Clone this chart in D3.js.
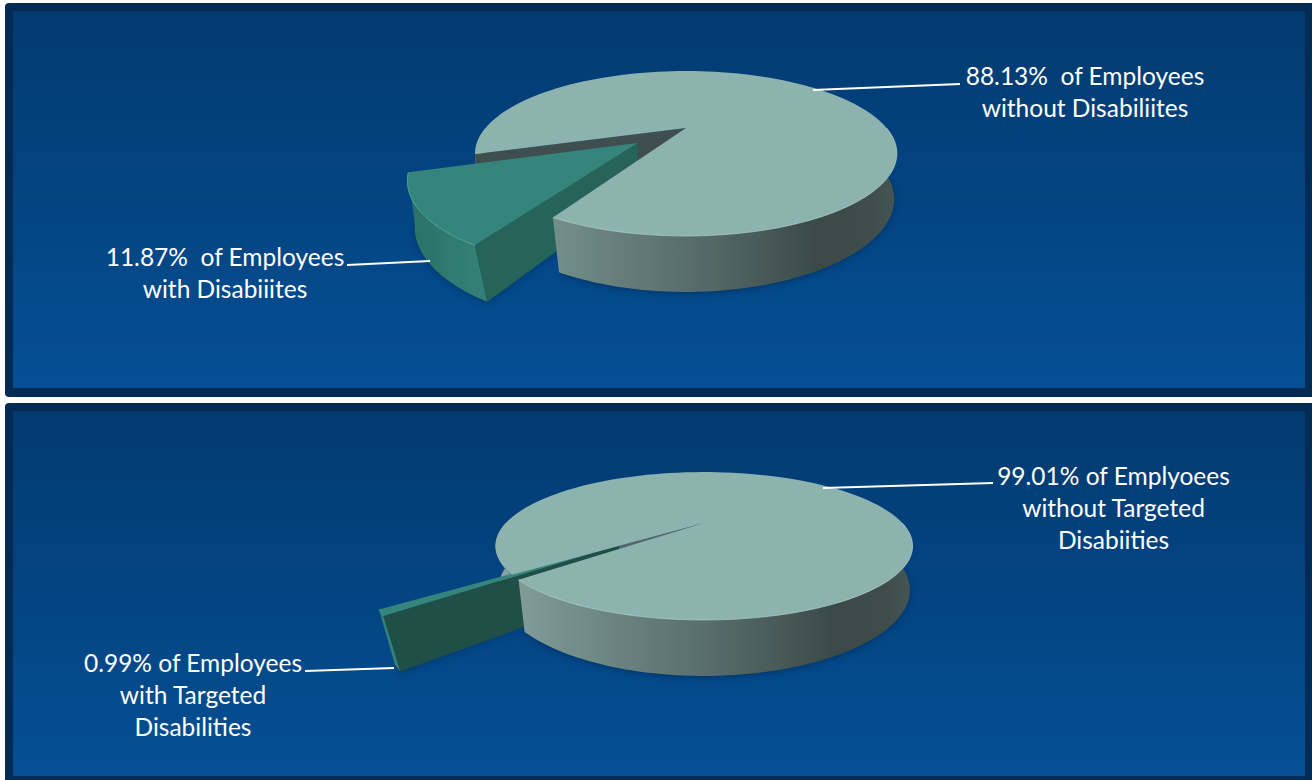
<!DOCTYPE html>
<html>
<head>
<meta charset="utf-8">
<script src="https://cdn.jsdelivr.net/npm/d3@7/dist/d3.min.js"></script>
<style>
  html, body { margin: 0; padding: 0; background: #fff; }
  svg { display: block; }
  text { font-family: Lato, "Open Sans", sans-serif; font-size: 24.5px; fill: #fff; }
</style>
</head>
<body>
<svg id="chart" width="1312" height="780"></svg>
<script>
// Workforce shares shown in each pie: [without, with]
const disabilityValues = [88.13, 11.87];
const targetedValues = [99.01, 0.99];

const disabilityMajorLabel = ["88.13%  of Employees", "without Disabiliites"];
const disabilityMinorLabel = ["11.87%  of Employees", "with Disabiiites"];
const targetedMajorLabel = ["99.01% of Emplyoees", "without Targeted", "Disabiities"];
const targetedMinorLabel = ["0.99% of Employees", "with Targeted", "Disabilities"];

const deg = Math.PI / 180;
const svg = d3.select("#chart");
const defs = svg.append("defs");

defs.append("filter").attr("id", "soft")
  .attr("x", "-10%").attr("y", "-10%").attr("width", "120%").attr("height", "120%")
  .append("feGaussianBlur").attr("stdDeviation", 3);

// Background panels
const panelFill = defs.append("linearGradient").attr("id", "panelFill")
  .attr("x1", 0).attr("y1", 0).attr("x2", 0).attr("y2", 1);
panelFill.append("stop").attr("offset", 0).attr("stop-color", "#023a70");
panelFill.append("stop").attr("offset", 1).attr("stop-color", "#054f94");

function drawPanel(y0, y1, innerTop, innerBottom) {
  svg.append("rect").attr("x", 5).attr("y", y0).attr("width", 1312).attr("height", y1 - y0)
    .attr("rx", 4).attr("fill", "#042b53");
  svg.append("rect").attr("x", 13).attr("y", innerTop).attr("width", 1292).attr("height", innerBottom - innerTop)
    .attr("fill", "url(#panelFill)");
}
drawPanel(3, 397, 11, 388);
drawPanel(403, 790, 411, 776);

// Draws one exploded pie on a tilted disc, seen in perspective
function drawPie(values, o) {
  // Unit-disc coordinates (u right, v towards the viewer, h depth of the disc) to the page
  const project = (u, v, h) => {
    const sx = 1 / (1 - o.k * v + o.m * h * Math.max(v, 0));
    const sy = 1 / (1 - o.k * v);
    return [o.cx + o.A * u * sx, o.cy + o.B * v * sy + h * (o.dA + o.dB * v)];
  };
  const arcs = d3.pie().sort(null)
    .startAngle(o.start * deg).endAngle((o.start + 360) * deg)(values);
  const main = arcs[0], minor = arcs[1];
  const mid = (minor.startAngle + minor.endAngle) / 2 + o.explodeTilt * deg;
  const ox = Math.sin(mid) * o.explode, oy = -Math.cos(mid) * o.explode;

  const rim = (a, h, dx, dy, r = 1) => project(r * Math.sin(a) + dx, -r * Math.cos(a) + dy, h);
  const slab = (a, h) => rim(a, h, ox, oy, o.minorRadius);
  const sweep = (a0, a1) => d3.range(0, 121).map(i => a0 + (a1 - a0) * i / 120);
  const path = d3.line();
  const poly = pts => path(pts) + "Z";

  const wallId = "wall" + o.id, slabId = "slab" + o.id;
  const wallGrad = defs.append("linearGradient").attr("id", wallId)
    .attr("gradientUnits", "userSpaceOnUse")
    .attr("x1", project(-1, o.k, 0)[0]).attr("x2", project(1, o.k, 0)[0]).attr("y1", 0).attr("y2", 0);
  [[0, "#8aa5a1"], [0.19, "#748f8c"], [0.53, "#566b69"], [0.8, "#3b4a49"], [0.92, "#3f4e4d"], [1, "#4a5a58"]]
    .forEach(d => wallGrad.append("stop").attr("offset", d[0]).attr("stop-color", d[1]));
  const slabGrad = defs.append("linearGradient").attr("id", slabId)
    .attr("gradientUnits", "userSpaceOnUse")
    .attr("x1", slab(minor.endAngle, 0)[0]).attr("x2", slab(minor.startAngle, 0)[0])
    .attr("y1", 0).attr("y2", 0);
  slabGrad.append("stop").attr("offset", 0).attr("stop-color", "#2a7067");
  slabGrad.append("stop").attr("offset", 1).attr("stop-color", "#348076");

  const g = svg.append("g");

  // Soft shadow under the disc and the pulled-out slice
  const frontMain = sweep(main.startAngle, main.endAngle);
  g.append("path")
    .attr("d", poly(sweep(450 * deg, main.endAngle).map(a => rim(a, 1.03, 0, 0)).concat([project(0, 0, 1)])))
    .attr("fill", "#02264c").attr("opacity", 0.55).attr("filter", "url(#soft)");
  g.append("path")
    .attr("d", poly(sweep(minor.startAngle, minor.endAngle).map(a => slab(a, 1.03)).concat([project(ox, oy, 1)])))
    .attr("fill", "#02264c").attr("opacity", 0.45).attr("filter", "url(#soft)");

  // Far side of the notch: left wall and the cut face behind the slice
  const leftEnd = Math.min(main.endAngle, 270 * deg);
  if (main.startAngle < leftEnd) {
    const a = sweep(main.startAngle, leftEnd);
    g.append("path")
      .attr("d", poly(a.map(t => rim(t, 0, 0, 0)).concat(a.slice().reverse().map(t => rim(t, 1, 0, 0)))))
      .attr("fill", `url(#${wallId})`);
  }
  g.append("path")
    .attr("d", poly([project(0, 0, 0), rim(main.startAngle, 0, 0, 0), rim(main.startAngle, 1, 0, 0), project(0, 0, 1)]))
    .attr("fill", o.notchFace);

  // Pulled-out slice: outer wall, cut face, top
  const arcMinor = sweep(minor.startAngle, minor.endAngle);
  g.append("path")
    .attr("d", poly(arcMinor.map(t => slab(t, 0)).concat(arcMinor.slice().reverse().map(t => slab(t, 1)))))
    .attr("fill", `url(#${slabId})`);
  g.append("path")
    .attr("d", poly([project(ox, oy, 0), slab(minor.startAngle, 0), slab(minor.startAngle, 1), project(ox, oy, 1)]))
    .attr("fill", o.cutFace);
  g.append("path")
    .attr("d", poly([project(ox, oy, 0)].concat(arcMinor.map(t => slab(t, 0)))))
    .attr("fill", "#35857c");
  g.append("path")
    .attr("d", path(arcMinor.map(t => slab(t, 0))))
    .attr("fill", "none").attr("stroke", "#62b3a7").attr("stroke-width", 1).attr("opacity", 0.8);

  // Near wall and top of the main disc
  const front = sweep(440 * deg, main.endAngle);
  g.append("path")
    .attr("d", poly(front.map(t => rim(t, 0, 0, 0)).concat(front.slice().reverse().map(t => rim(t, 1, 0, 0)))))
    .attr("fill", `url(#${wallId})`);
  g.append("path")
    .attr("d", poly([project(0, 0, 0)].concat(frontMain.map(t => rim(t, 0, 0, 0)))))
    .attr("fill", "#8cb3ae");
  g.append("path")
    .attr("d", path(sweep(450 * deg, main.endAngle).map(t => rim(t, 0, 0, 0))))
    .attr("fill", "none").attr("stroke", "#bcd6d1").attr("stroke-width", 1).attr("opacity", 0.7);
}

drawPie(disabilityValues, {
  id: 1, cx: 686, cy: 128, A: 200.5, B: 74.6, dA: 47, dB: 9, k: 0.309, m: 0.04,
  start: 251.7, explode: 0.296, explodeTilt: 0, minorRadius: 0.993, notchFace: "#3f4f50", cutFace: "#26645a"
});
drawPie(targetedValues, {
  id: 2, cx: 704, cy: 523, A: 198.2, B: 66.8, dA: 44, dB: 12, k: 0.311, m: 0.04,
  start: 231.3, explode: 0.49, explodeTilt: 3, minorRadius: 1, notchFace: "#55676a", cutFace: "#1f4f46"
});

// Leader lines and their labels
const leaders = [
  [[813, 90], [960, 84]],
  [[347, 265], [430, 261]],
  [[823, 488], [993, 483]],
  [[305, 671], [394, 668]]
];
svg.append("g").selectAll("path").data(leaders).join("path")
  .attr("d", d3.line())
  .attr("fill", "none").attr("stroke", "#fff").attr("stroke-width", 2);

function drawLabel(lines, x, y) {
  svg.append("text").attr("text-anchor", "middle").attr("xml:space", "preserve")
    .selectAll("tspan").data(lines).join("tspan")
    .attr("x", x).attr("y", (d, i) => y + i * 32)
    .text(d => d);
}
drawLabel(disabilityMajorLabel, 1085, 85);
drawLabel(disabilityMinorLabel, 225, 266);
drawLabel(targetedMajorLabel, 1113.5, 485);
drawLabel(targetedMinorLabel, 193, 672);
</script>
</body>
</html>
